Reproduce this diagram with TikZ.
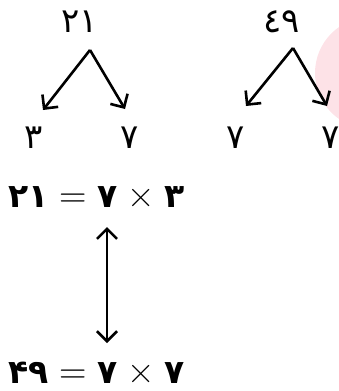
\documentclass[tikz,border=0pt]{standalone}
\usepackage{fontspec}
\usetikzlibrary{arrows.meta, positioning}
\newfontfamily\arabicfont[Script=Arabic]{DejaVu Sans}
\definecolor{softpink}{RGB}{253,226,231}
\newcommand{\opsym}[1]{{\rmfamily\mdseries\fontsize{38}{40}\selectfont #1}}

\begin{document}
\begin{tikzpicture}[x=1pt, y=-1pt,
  num/.style={font=\arabicfont\fontsize{34}{36}\selectfont, inner sep=0pt},
  eqn/.style={font=\arabicfont\bfseries\fontsize{33}{36}\selectfont, inner sep=0pt,
    text height=24pt, text depth=1pt, anchor=base west},
  split/.style={-{Straight Barb[length=10pt, width=20pt]}, line width=2.6pt}]
  \useasboundingbox (0,0) rectangle (339,391);
  % ---- pink blob on the right ----
  \fill[softpink] (371,73) circle (56);
  % ---- 21 split ----
  \node[num] (n21) at (80,22) {٢١};
  \coordinate (top21) at (90,50);
  \coordinate (end3) at (43,110);
  \coordinate (end7) at (125,109);
  \node[num] (f3) at (34,138) {٣};
  \node[num] (f7) at (130,138) {٧};
  \draw[split] (top21) -- (end3);
  \draw[split] (top21) -- (end7);
  % ---- 49 split ----
  \node[num] (n49) at (282,22) {٤٩};
  \coordinate (top49) at (293,48);
  \coordinate (endA) at (246,106);
  \coordinate (endB) at (327,106);
  \node[num] (fa) at (236,138) {٧};
  \node[num] (fb) at (331,138) {٧};
  \draw[split] (top49) -- (endA);
  \draw[split] (top49) -- (endB);
  % ---- equations ----
  \node[eqn] (eq21) at (8,207)
    {۲۱\hspace{11pt}\opsym{=}\hspace{11pt}۷\hspace{10pt}\opsym{×}\hspace{9pt}۳};
  \node[eqn] (eq49) at (8,383)
    {۴۹\hspace{11pt}\opsym{=}\hspace{11pt}۷\hspace{10pt}\opsym{×}\hspace{9pt}۷};
  \coordinate (up) at (107,227);
  \coordinate (dn) at (107,343);
  \draw[split, {Straight Barb[length=10pt, width=20pt]}-{Straight Barb[length=10pt, width=20pt]}] (up) -- (dn);
\end{tikzpicture}
\end{document}
